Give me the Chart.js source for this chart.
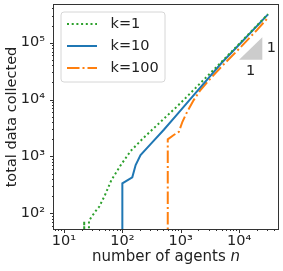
<!DOCTYPE html>
<html>
<head>
<meta charset="utf-8">
<script src="https://cdn.jsdelivr.net/npm/chart.js@4/dist/chart.umd.min.js"></script>
<style>
  html, body { margin: 0; padding: 0; background: #fff; }
  #wrap { width: 283px; height: 271px; }
</style>
</head>
<body>
<div id="wrap"><canvas id="c" width="283" height="271"></canvas></div>
<script>
// ---- data ----
const k1N   = [22.2, 22.2, 22.6, 26.6, 26.8, 30, 35, 40, 50, 65, 94, 139, 234, 445, 870, 1470, 5000, 10000, 31300];
const k1V   = [1, 73, 1, 1, 74, 88, 110, 130, 205, 385, 705, 1250, 2150, 4000, 7600, 13000, 46000, 95000, 318000];
const k10N  = [100, 100, 148, 169, 205, 305, 514, 870, 1790, 5000, 10000, 31300];
const k10V  = [1, 336, 430, 706, 1060, 1650, 2950, 5500, 13000, 44000, 92000, 315000];
const k100N = [600, 600, 760, 930, 1070, 1290, 1670, 2180, 3000, 5000, 10000, 20000, 31300];
const k100V = [1, 2000, 2380, 2710, 4070, 6100, 9800, 14700, 21500, 38000, 78000, 165000, 275000];
const seriesLabels = ['k=1', 'k=10', 'k=100'];
const xTickValues = [10, 100, 1000, 10000];
const yTickValues = [100, 1000, 10000, 100000];
const supers = {1:'\u00B9', 2:'\u00B2', 3:'\u00B3', 4:'\u2074', 5:'\u2075'};
const slopeTriN = [10000, 25000];
const slopeTriV = [50000, 125000];
const xTitle = 'number of agents ';
const xTitleVar = 'n';
const yTitle = 'total data collected';

const FONT = '"DejaVu Sans", sans-serif';
const colors = ['#2ca02c', '#1f77b4', '#ff7f0e'];
const dashes = [[2, 2.7], [], [12.5, 3, 2, 3]];

function pts(xs, ys) { return xs.map((x, i) => ({x: x, y: ys[i]})); }

const decorPlugin = {
  id: 'decor',
  afterDraw(chart) {
    const ctx = chart.ctx;
    const a = chart.chartArea;
    const xs = chart.scales.x, ys = chart.scales.y;
    ctx.save();
    // slope triangle
    ctx.fillStyle = '#cccccc';
    ctx.beginPath();
    ctx.moveTo(xs.getPixelForValue(slopeTriN[0]), ys.getPixelForValue(slopeTriV[0]));
    ctx.lineTo(xs.getPixelForValue(slopeTriN[1]), ys.getPixelForValue(slopeTriV[1]));
    ctx.lineTo(xs.getPixelForValue(slopeTriN[1]), ys.getPixelForValue(slopeTriV[0]));
    ctx.closePath();
    ctx.fill();
    ctx.fillStyle = '#222';
    ctx.font = '14.5px ' + FONT;
    ctx.textAlign = 'center';
    ctx.textBaseline = 'middle';
    const tx1 = xs.getPixelForValue(slopeTriN[1]);
    const tyMid = (ys.getPixelForValue(slopeTriV[0]) + ys.getPixelForValue(slopeTriV[1])) / 2;
    ctx.fillText('1', tx1 + 9, tyMid);
    const txMid = (xs.getPixelForValue(slopeTriN[0]) + tx1) / 2;
    ctx.fillText('1', txMid, ys.getPixelForValue(slopeTriV[0]) + 11);

    // frame
    ctx.strokeStyle = '#333';
    ctx.lineWidth = 1;
    ctx.strokeRect(a.left - 0.5, a.top - 0.5, a.right - a.left + 1, a.bottom - a.top + 1);

    // ticks (major + minor)
    ctx.beginPath();
    for (let e = 0; e <= 5; e++) {
      for (let m = 1; m <= 9; m++) {
        const v = m * Math.pow(10, e);
        const len = m === 1 ? 4 : 2;
        if (v >= xs.min && v <= xs.max) {
          const px = Math.round(xs.getPixelForValue(v)) + 0.5;
          ctx.moveTo(px, a.bottom); ctx.lineTo(px, a.bottom + len);
        }
        if (v >= ys.min && v <= ys.max) {
          const py = Math.round(ys.getPixelForValue(v)) + 0.5;
          ctx.moveTo(a.left, py); ctx.lineTo(a.left - len, py);
        }
      }
    }
    ctx.stroke();

    // x title with italic variable
    ctx.fillStyle = '#222';
    ctx.textBaseline = 'alphabetic';
    ctx.textAlign = 'left';
    ctx.font = '15px ' + FONT;
    const w1 = ctx.measureText(xTitle).width;
    ctx.font = 'italic 15px ' + FONT;
    const w2 = ctx.measureText(xTitleVar).width;
    const cx = (a.left + a.right) / 2;
    let sx = cx - (w1 + w2) / 2;
    ctx.font = '15px ' + FONT;
    ctx.fillText(xTitle, sx, 261);
    ctx.font = 'italic 15px ' + FONT;
    ctx.fillText(xTitleVar, sx + w1, 261);

    // legend
    const lx = 61, ly = 12, lw = 104, lh = 70, r = 3;
    ctx.beginPath();
    ctx.moveTo(lx + r, ly);
    ctx.arcTo(lx + lw, ly, lx + lw, ly + lh, r);
    ctx.arcTo(lx + lw, ly + lh, lx, ly + lh, r);
    ctx.arcTo(lx, ly + lh, lx, ly, r);
    ctx.arcTo(lx, ly, lx + lw, ly, r);
    ctx.closePath();
    ctx.fillStyle = 'rgba(255,255,255,0.8)';
    ctx.fill();
    ctx.strokeStyle = '#d6d6d6';
    ctx.lineWidth = 1;
    ctx.stroke();
    const rows = [24, 46, 68];
    ctx.font = '14.5px ' + FONT;
    ctx.textBaseline = 'middle';
    chart.data.datasets.forEach((ds, i) => {
      ctx.beginPath();
      ctx.setLineDash(dashes[i]);
      ctx.strokeStyle = ds.borderColor;
      ctx.lineWidth = 2;
      ctx.moveTo(67, rows[i]);
      ctx.lineTo(97, rows[i]);
      ctx.stroke();
      ctx.setLineDash([]);
      ctx.fillStyle = '#222';
      ctx.fillText(ds.label, 110.5, rows[i]);
    });
    ctx.restore();
  }
};

const chart = new Chart(document.getElementById('c'), {
  type: 'line',
  data: {
    datasets: [
      {label: seriesLabels[0], data: pts(k1N, k1V), borderColor: colors[0], borderDash: dashes[0], borderWidth: 2, pointRadius: 0, tension: 0, fill: false},
      {label: seriesLabels[1], data: pts(k10N, k10V), borderColor: colors[1], borderDash: dashes[1], borderWidth: 2, pointRadius: 0, tension: 0, fill: false},
      {label: seriesLabels[2], data: pts(k100N, k100V), borderColor: colors[2], borderDash: dashes[2], borderWidth: 2, pointRadius: 0, tension: 0, fill: false}
    ]
  },
  options: {
    responsive: false,
    animation: false,
    devicePixelRatio: 1,
    layout: {padding: {left: 0, right: 5, top: 5, bottom: 0}},
    plugins: {legend: {display: false}, tooltip: {enabled: false}},
    scales: {
      x: {
        type: 'logarithmic',
        min: Math.pow(10, 0.829),
        max: Math.pow(10, 4.667),
        grid: {display: false, drawTicks: false},
        border: {display: false},
        afterBuildTicks: s => { s.ticks = xTickValues.map(v => ({value: v})); },
        afterFit: s => { s.height = 42; s.paddingLeft = 0; s.paddingRight = 0; },
        ticks: {
          autoSkip: false, maxRotation: 0, padding: 4, color: '#222',
          font: {family: FONT, size: 14.5},
          callback: v => '10' + supers[Math.round(Math.log10(v))]
        }
      },
      y: {
        type: 'logarithmic',
        min: Math.pow(10, 1.724),
        max: Math.pow(10, 5.663),
        grid: {display: false, drawTicks: false},
        border: {display: false},
        afterBuildTicks: s => { s.ticks = yTickValues.map(v => ({value: v})); },
        afterFit: s => { s.width = 54; s.paddingTop = 0; s.paddingBottom = 0; },
        ticks: {
          autoSkip: false, padding: 9, color: '#222',
          font: {family: FONT, size: 14.5},
          callback: v => '10' + supers[Math.round(Math.log10(v))]
        },
        title: {display: true, text: yTitle, color: '#222', font: {family: FONT, size: 14.5}, padding: {top: 3.5, bottom: 0}}
      }
    }
  },
  plugins: [decorPlugin]
});
</script>
</body>
</html>
